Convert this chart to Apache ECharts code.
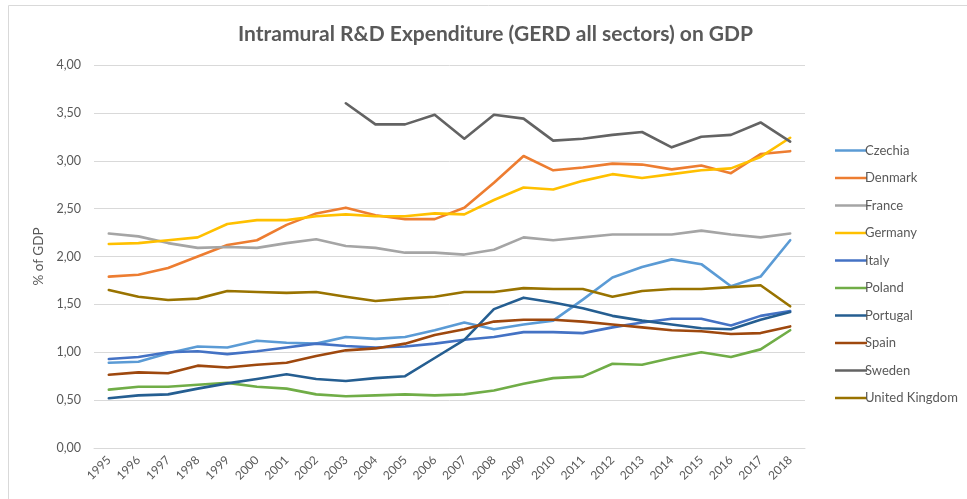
<!DOCTYPE html>
<html>
<head>
<meta charset="utf-8">
<script src="https://cdn.jsdelivr.net/npm/echarts@6/dist/echarts.min.js"></script>
<style>html,body{margin:0;padding:0;background:#fff;}#c{width:967px;height:499px;}</style>
</head>
<body>
<div id="c"></div>
<script>
var years = ['1995','1996','1997','1998','1999','2000','2001','2002','2003','2004','2005','2006','2007','2008','2009','2010','2011','2012','2013','2014','2015','2016','2017','2018'];
var czechia = [0.89,0.90,0.99,1.06,1.05,1.12,1.10,1.09,1.16,1.14,1.16,1.23,1.31,1.24,1.29,1.33,1.55,1.78,1.89,1.97,1.92,1.69,1.79,2.17];
var denmark = [1.79,1.81,1.88,2.00,2.12,2.17,2.33,2.45,2.51,2.43,2.39,2.39,2.51,2.77,3.05,2.90,2.93,2.97,2.96,2.91,2.95,2.87,3.07,3.10];
var france = [2.24,2.21,2.14,2.09,2.10,2.09,2.14,2.18,2.11,2.09,2.04,2.04,2.02,2.07,2.20,2.17,2.20,2.23,2.23,2.23,2.27,2.23,2.20,2.24];
var germany = [2.13,2.14,2.17,2.20,2.34,2.38,2.38,2.42,2.44,2.42,2.42,2.45,2.44,2.59,2.72,2.70,2.79,2.86,2.82,2.86,2.90,2.92,3.04,3.24];
var italy = [0.93,0.95,1.00,1.01,0.98,1.01,1.05,1.09,1.065,1.05,1.06,1.09,1.13,1.16,1.21,1.21,1.20,1.26,1.31,1.35,1.35,1.28,1.38,1.43];
var poland = [0.61,0.64,0.64,0.66,0.68,0.64,0.62,0.56,0.54,0.55,0.56,0.55,0.56,0.60,0.67,0.73,0.745,0.88,0.87,0.94,1.00,0.95,1.03,1.23];
var portugal = [0.52,0.55,0.56,0.62,0.675,0.72,0.77,0.72,0.70,0.73,0.75,0.94,1.13,1.45,1.57,1.52,1.46,1.38,1.33,1.29,1.25,1.24,1.34,1.42];
var spain = [0.765,0.79,0.78,0.86,0.84,0.87,0.89,0.96,1.02,1.04,1.09,1.18,1.24,1.32,1.34,1.34,1.32,1.29,1.26,1.23,1.22,1.19,1.20,1.27];
var sweden = [null,null,null,null,null,null,null,null,3.60,3.38,3.38,3.48,3.23,3.48,3.44,3.21,3.23,3.27,3.30,3.14,3.25,3.27,3.40,3.20];
var uk = [1.65,1.58,1.545,1.56,1.64,1.63,1.62,1.63,1.58,1.535,1.56,1.58,1.63,1.63,1.67,1.66,1.66,1.58,1.64,1.66,1.66,1.68,1.70,1.48];
var yTicks = [0,0.5,1,1.5,2,2.5,3,3.5,4];

var names = ['Czechia','Denmark','France','Germany','Italy','Poland','Portugal','Spain','Sweden','United Kingdom'];
var data = [czechia,denmark,france,germany,italy,poland,portugal,spain,sweden,uk];
var colors = ['#5B9BD5','#ED7D31','#A5A5A5','#FFC000','#4472C4','#70AD47','#255E91','#9E480E','#636363','#997300'];
var FONT = 'Lato';

var chart = echarts.init(document.getElementById('c'));
chart.setOption({
  animation: false,
  color: colors,
  graphic: [{
    type: 'rect', shape: {x: 8.5, y: 5.5, width: 1000, height: 600},
    style: {fill: 'none', stroke: '#d9d9d9', lineWidth: 1}, silent: true
  }],
  title: {
    text: 'Intramural R&D Expenditure (GERD all sectors) on GDP',
    left: 233, top: 19,
    textStyle: {fontFamily: FONT, fontSize: 21, fontWeight: 'bold', color: '#595959'}
  },
  legend: {
    orient: 'vertical', left: 830, top: 139,
    itemWidth: 32, itemHeight: 14, itemGap: 14.5,
    icon: 'path://M0,6 L32,6 L32,8.5 L0,8.5 Z',
    textStyle: {fontFamily: FONT, fontSize: 13, color: '#595959', padding: [0,0,0,-7]},
    data: names
  },
  grid: {left: 94, right: 162, top: 65, bottom: 51, containLabel: false},
  xAxis: {
    type: 'category', data: years, boundaryGap: true,
    axisLine: {lineStyle: {color: '#d9d9d9'}},
    axisTick: {show: false},
    axisLabel: {rotate: 45, fontFamily: FONT, fontSize: 12, color: '#595959', margin: 10, interval: 0}
  },
  yAxis: {
    type: 'value', min: yTicks[0], max: yTicks[yTicks.length-1], interval: 0.5,
    name: '% of GDP', nameLocation: 'middle', nameGap: 47,
    nameTextStyle: {fontFamily: FONT, fontSize: 13.5, color: '#595959'},
    axisLine: {show: false}, axisTick: {show: false},
    axisLabel: {fontFamily: FONT, fontSize: 12.5, color: '#595959', margin: 13,
      formatter: function (v) { return v.toFixed(2).replace('.', ','); }},
    splitLine: {lineStyle: {color: '#d9d9d9'}}
  },
  series: names.map(function (n, i) {
    return {
      name: n, type: 'line', data: data[i], showSymbol: false, symbol: 'none',
      connectNulls: false,
      lineStyle: {width: 2.6, cap: 'round', join: 'round'}
    };
  })
});
</script>
</body>
</html>
